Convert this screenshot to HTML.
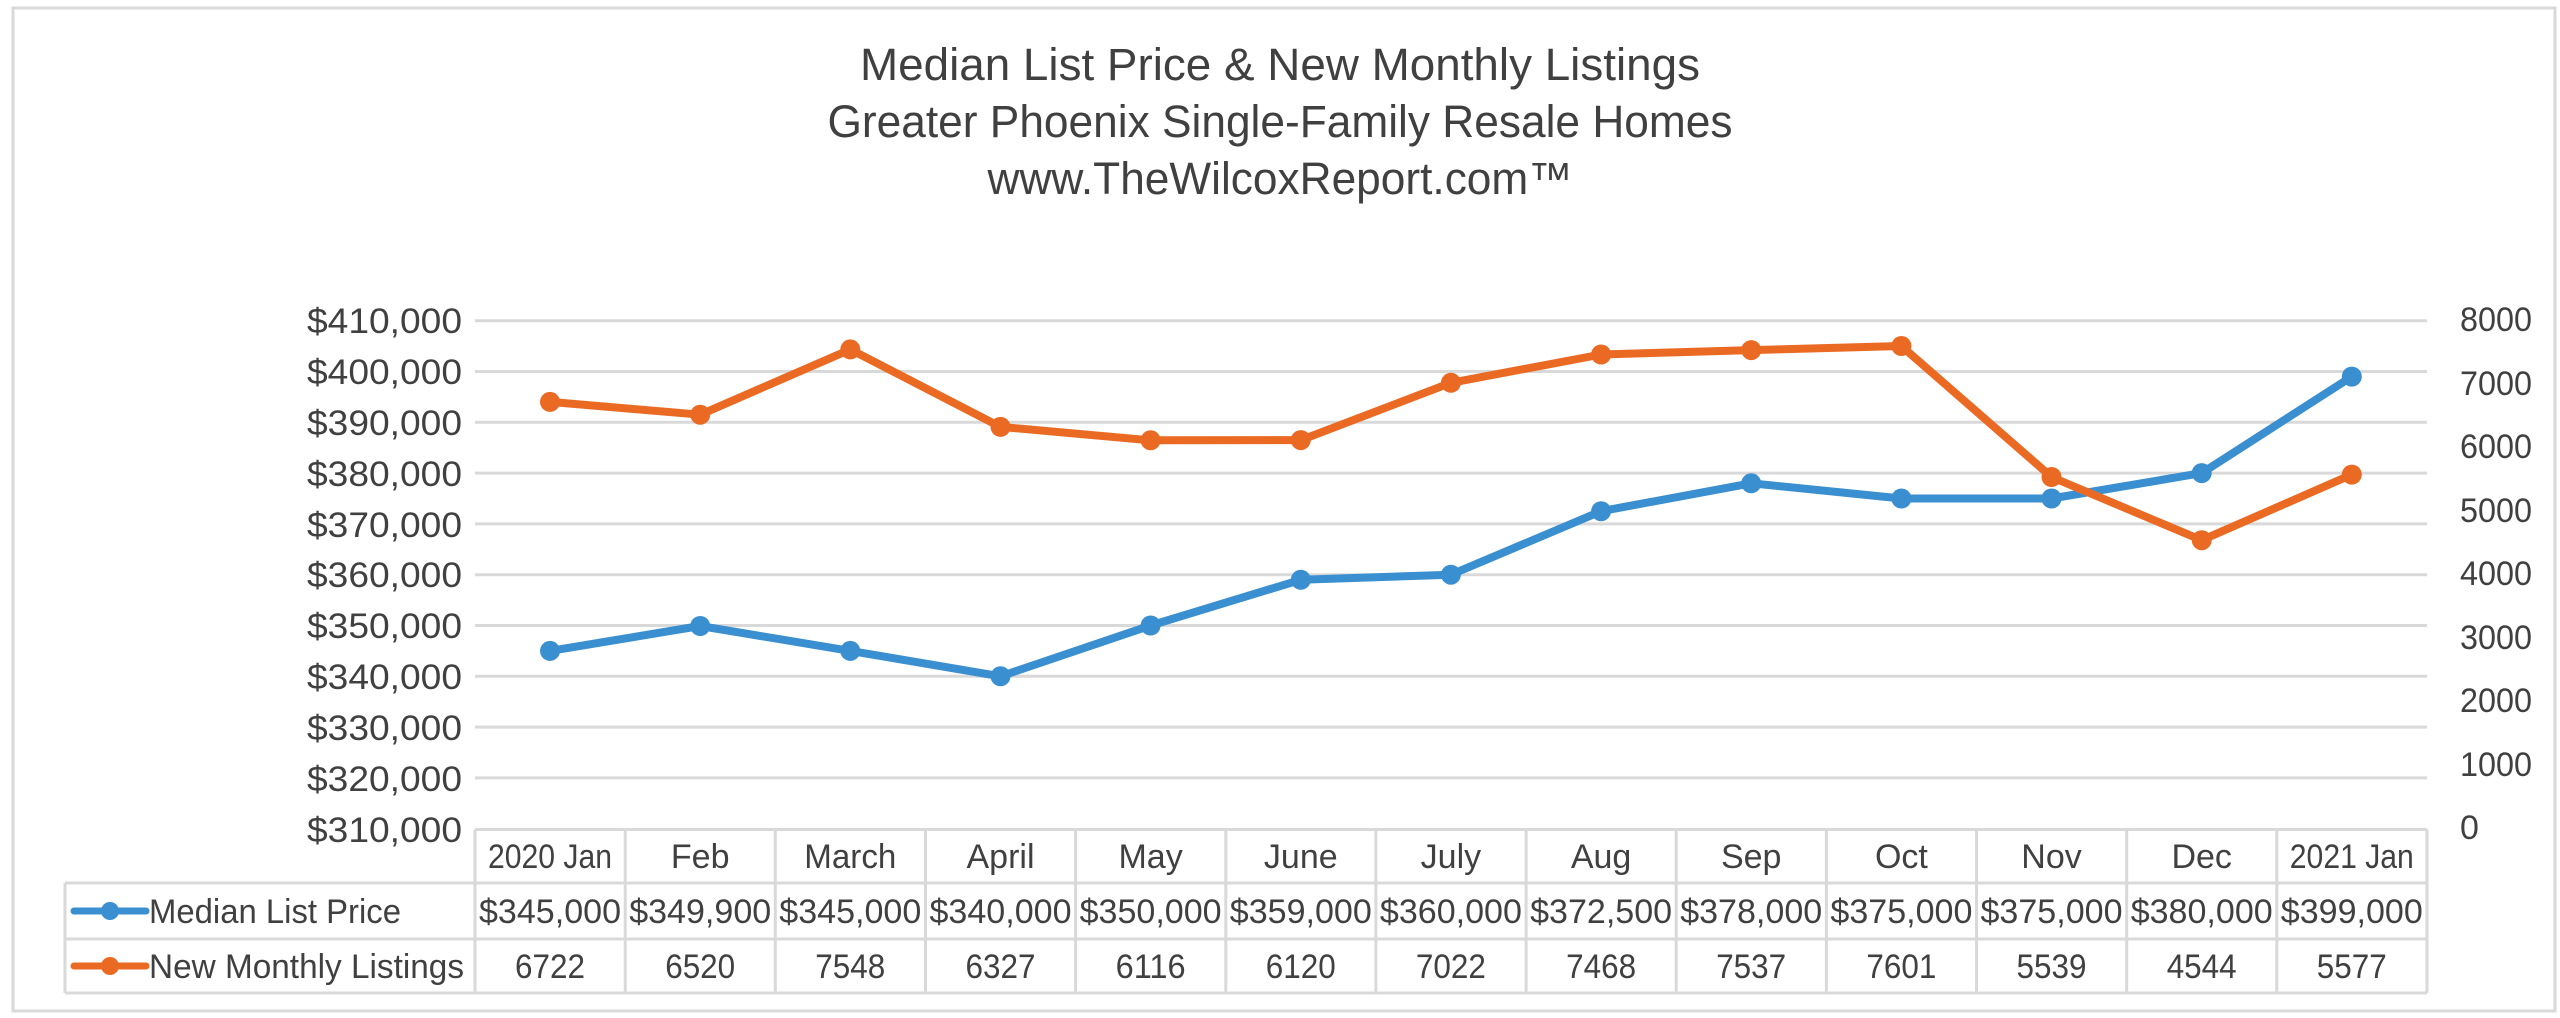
<!DOCTYPE html>
<html><head><meta charset="utf-8"><style>
html,body{margin:0;padding:0;background:#fff;}
svg{display:block;}
text{font-family:"Liberation Sans",sans-serif;fill:#404040;}
</style></head><body>
<svg width="2560" height="1018" viewBox="0 0 2560 1018" xmlns="http://www.w3.org/2000/svg">
<rect x="0" y="0" width="2560" height="1018" fill="#fff"/>
<rect x="13" y="8" width="2542" height="1003" fill="none" stroke="#d9d9d9" stroke-width="3"/>
<g text-anchor="middle" font-size="45">
<text x="1280" y="80" textLength="840" lengthAdjust="spacingAndGlyphs">Median List Price &amp; New Monthly Listings</text>
<text x="1280" y="137" textLength="905" lengthAdjust="spacingAndGlyphs">Greater Phoenix Single-Family Resale Homes</text>
<text x="1280" y="194" textLength="585" lengthAdjust="spacingAndGlyphs">www.TheWilcoxReport.com™</text>
</g>
<g stroke="#d9d9d9" stroke-width="3">
<line x1="475" x2="2427" y1="320.7" y2="320.7"/>
<line x1="475" x2="2427" y1="371.5" y2="371.5"/>
<line x1="475" x2="2427" y1="422.3" y2="422.3"/>
<line x1="475" x2="2427" y1="473.1" y2="473.1"/>
<line x1="475" x2="2427" y1="523.9" y2="523.9"/>
<line x1="475" x2="2427" y1="574.7" y2="574.7"/>
<line x1="475" x2="2427" y1="625.5" y2="625.5"/>
<line x1="475" x2="2427" y1="676.3" y2="676.3"/>
<line x1="475" x2="2427" y1="727.1" y2="727.1"/>
<line x1="475" x2="2427" y1="777.9" y2="777.9"/>
</g>
<g text-anchor="end" font-size="35">
<text x="462" y="333" textLength="155" lengthAdjust="spacingAndGlyphs">$410,000</text>
<text x="462" y="384" textLength="155" lengthAdjust="spacingAndGlyphs">$400,000</text>
<text x="462" y="435" textLength="155" lengthAdjust="spacingAndGlyphs">$390,000</text>
<text x="462" y="486" textLength="155" lengthAdjust="spacingAndGlyphs">$380,000</text>
<text x="462" y="537" textLength="155" lengthAdjust="spacingAndGlyphs">$370,000</text>
<text x="462" y="587" textLength="155" lengthAdjust="spacingAndGlyphs">$360,000</text>
<text x="462" y="638" textLength="155" lengthAdjust="spacingAndGlyphs">$350,000</text>
<text x="462" y="689" textLength="155" lengthAdjust="spacingAndGlyphs">$340,000</text>
<text x="462" y="740" textLength="155" lengthAdjust="spacingAndGlyphs">$330,000</text>
<text x="462" y="791" textLength="155" lengthAdjust="spacingAndGlyphs">$320,000</text>
<text x="462" y="842" textLength="155" lengthAdjust="spacingAndGlyphs">$310,000</text>
</g>
<g font-size="34">
<text x="2460" y="331" textLength="72" lengthAdjust="spacingAndGlyphs">8000</text>
<text x="2460" y="395" textLength="72" lengthAdjust="spacingAndGlyphs">7000</text>
<text x="2460" y="458" textLength="72" lengthAdjust="spacingAndGlyphs">6000</text>
<text x="2460" y="522" textLength="72" lengthAdjust="spacingAndGlyphs">5000</text>
<text x="2460" y="585" textLength="72" lengthAdjust="spacingAndGlyphs">4000</text>
<text x="2460" y="649" textLength="72" lengthAdjust="spacingAndGlyphs">3000</text>
<text x="2460" y="712" textLength="72" lengthAdjust="spacingAndGlyphs">2000</text>
<text x="2460" y="776" textLength="72" lengthAdjust="spacingAndGlyphs">1000</text>
<text x="2460" y="839">0</text>
</g>
<polyline fill="none" stroke="#3a8fd0" stroke-width="8" stroke-linejoin="round" points="550,650.9 700.2,626 850.3,650.9 1000.5,676.3 1150.6,625.5 1300.8,579.8 1450.9,574.7 1601.1,511.2 1751.2,483.3 1901.4,498.5 2051.5,498.5 2201.7,473.1 2351.8,376.6"/>
<g fill="#3a8fd0">
<circle cx="550" cy="650.9" r="10"/><circle cx="700.2" cy="626" r="10"/><circle cx="850.3" cy="650.9" r="10"/><circle cx="1000.5" cy="676.3" r="10"/><circle cx="1150.6" cy="625.5" r="10"/><circle cx="1300.8" cy="579.8" r="10"/><circle cx="1450.9" cy="574.7" r="10"/><circle cx="1601.1" cy="511.2" r="10"/><circle cx="1751.2" cy="483.3" r="10"/><circle cx="1901.4" cy="498.5" r="10"/><circle cx="2051.5" cy="498.5" r="10"/><circle cx="2201.7" cy="473.1" r="10"/><circle cx="2351.8" cy="376.6" r="10"/>
</g>
<polyline fill="none" stroke="#eb6a23" stroke-width="8" stroke-linejoin="round" points="550,401.9 700.2,414.7 850.3,349.4 1000.5,426.9 1150.6,440.3 1300.8,440.1 1450.9,382.8 1601.1,354.5 1751.2,350.1 1901.4,346 2051.5,477 2201.7,540.2 2351.8,474.6"/>
<g fill="#eb6a23">
<circle cx="550" cy="401.9" r="10"/><circle cx="700.2" cy="414.7" r="10"/><circle cx="850.3" cy="349.4" r="10"/><circle cx="1000.5" cy="426.9" r="10"/><circle cx="1150.6" cy="440.3" r="10"/><circle cx="1300.8" cy="440.1" r="10"/><circle cx="1450.9" cy="382.8" r="10"/><circle cx="1601.1" cy="354.5" r="10"/><circle cx="1751.2" cy="350.1" r="10"/><circle cx="1901.4" cy="346" r="10"/><circle cx="2051.5" cy="477" r="10"/><circle cx="2201.7" cy="540.2" r="10"/><circle cx="2351.8" cy="474.6" r="10"/>
</g>
<g stroke="#d9d9d9" stroke-width="3" fill="none">
<line x1="475" x2="2427" y1="829.5" y2="829.5"/>
<line x1="65" x2="2427" y1="883" y2="883"/>
<line x1="65" x2="2427" y1="939" y2="939"/>
<line x1="65" x2="2427" y1="993" y2="993"/>
<line x1="65" x2="65" y1="883" y2="993"/>
<line x1="475" x2="475" y1="829.5" y2="993"/>
<line x1="625.2" x2="625.2" y1="829.5" y2="993"/>
<line x1="775.3" x2="775.3" y1="829.5" y2="993"/>
<line x1="925.5" x2="925.5" y1="829.5" y2="993"/>
<line x1="1075.6" x2="1075.6" y1="829.5" y2="993"/>
<line x1="1225.8" x2="1225.8" y1="829.5" y2="993"/>
<line x1="1375.9" x2="1375.9" y1="829.5" y2="993"/>
<line x1="1526.1" x2="1526.1" y1="829.5" y2="993"/>
<line x1="1676.2" x2="1676.2" y1="829.5" y2="993"/>
<line x1="1826.4" x2="1826.4" y1="829.5" y2="993"/>
<line x1="1976.5" x2="1976.5" y1="829.5" y2="993"/>
<line x1="2126.7" x2="2126.7" y1="829.5" y2="993"/>
<line x1="2276.8" x2="2276.8" y1="829.5" y2="993"/>
<line x1="2427" x2="2427" y1="829.5" y2="993"/>
</g>
<g text-anchor="middle" font-size="34">
<text x="550" y="868" textLength="124" lengthAdjust="spacingAndGlyphs">2020 Jan</text>
<text x="700.2" y="868">Feb</text>
<text x="850.3" y="868" textLength="92" lengthAdjust="spacingAndGlyphs">March</text>
<text x="1000.5" y="868">April</text>
<text x="1150.6" y="868">May</text>
<text x="1300.8" y="868">June</text>
<text x="1450.9" y="868">July</text>
<text x="1601.1" y="868">Aug</text>
<text x="1751.2" y="868">Sep</text>
<text x="1901.4" y="868">Oct</text>
<text x="2051.5" y="868">Nov</text>
<text x="2201.7" y="868">Dec</text>
<text x="2351.8" y="868" textLength="124" lengthAdjust="spacingAndGlyphs">2021 Jan</text>
</g>
<g text-anchor="middle" font-size="34">
<text x="550" y="923" textLength="142" lengthAdjust="spacingAndGlyphs">$345,000</text>
<text x="700.2" y="923" textLength="142" lengthAdjust="spacingAndGlyphs">$349,900</text>
<text x="850.3" y="923" textLength="142" lengthAdjust="spacingAndGlyphs">$345,000</text>
<text x="1000.5" y="923" textLength="142" lengthAdjust="spacingAndGlyphs">$340,000</text>
<text x="1150.6" y="923" textLength="142" lengthAdjust="spacingAndGlyphs">$350,000</text>
<text x="1300.8" y="923" textLength="142" lengthAdjust="spacingAndGlyphs">$359,000</text>
<text x="1450.9" y="923" textLength="142" lengthAdjust="spacingAndGlyphs">$360,000</text>
<text x="1601.1" y="923" textLength="142" lengthAdjust="spacingAndGlyphs">$372,500</text>
<text x="1751.2" y="923" textLength="142" lengthAdjust="spacingAndGlyphs">$378,000</text>
<text x="1901.4" y="923" textLength="142" lengthAdjust="spacingAndGlyphs">$375,000</text>
<text x="2051.5" y="923" textLength="142" lengthAdjust="spacingAndGlyphs">$375,000</text>
<text x="2201.7" y="923" textLength="142" lengthAdjust="spacingAndGlyphs">$380,000</text>
<text x="2351.8" y="923" textLength="142" lengthAdjust="spacingAndGlyphs">$399,000</text>
<text x="550" y="978" textLength="70" lengthAdjust="spacingAndGlyphs">6722</text>
<text x="700.2" y="978" textLength="70" lengthAdjust="spacingAndGlyphs">6520</text>
<text x="850.3" y="978" textLength="70" lengthAdjust="spacingAndGlyphs">7548</text>
<text x="1000.5" y="978" textLength="70" lengthAdjust="spacingAndGlyphs">6327</text>
<text x="1150.6" y="978" textLength="70" lengthAdjust="spacingAndGlyphs">6116</text>
<text x="1300.8" y="978" textLength="70" lengthAdjust="spacingAndGlyphs">6120</text>
<text x="1450.9" y="978" textLength="70" lengthAdjust="spacingAndGlyphs">7022</text>
<text x="1601.1" y="978" textLength="70" lengthAdjust="spacingAndGlyphs">7468</text>
<text x="1751.2" y="978" textLength="70" lengthAdjust="spacingAndGlyphs">7537</text>
<text x="1901.4" y="978" textLength="70" lengthAdjust="spacingAndGlyphs">7601</text>
<text x="2051.5" y="978" textLength="70" lengthAdjust="spacingAndGlyphs">5539</text>
<text x="2201.7" y="978" textLength="70" lengthAdjust="spacingAndGlyphs">4544</text>
<text x="2351.8" y="978" textLength="70" lengthAdjust="spacingAndGlyphs">5577</text>
</g>
<line x1="74" x2="146" y1="911" y2="911" stroke="#3a8fd0" stroke-width="7" stroke-linecap="round"/>
<circle cx="110" cy="911" r="9" fill="#3a8fd0"/>
<line x1="74" x2="146" y1="966" y2="966" stroke="#eb6a23" stroke-width="7" stroke-linecap="round"/>
<circle cx="110" cy="966" r="9" fill="#eb6a23"/>
<text x="149" y="923" font-size="34" textLength="252" lengthAdjust="spacingAndGlyphs">Median List Price</text>
<text x="149" y="978" font-size="34" textLength="315" lengthAdjust="spacingAndGlyphs">New Monthly Listings</text>
</svg>
</body></html>
